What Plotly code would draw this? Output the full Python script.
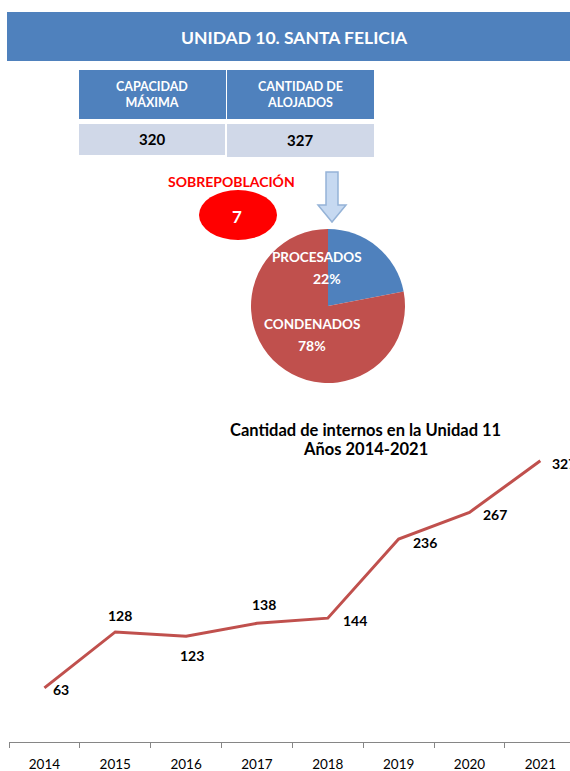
import plotly.graph_objects as go

W, H = 570, 771

years = ["2014", "2015", "2016", "2017", "2018", "2019", "2020", "2021"]
internos = [63, 128, 123, 138, 144, 236, 267, 327]
label_shift = [(17, -2), (5, 16), (6, -19), (7, 19), (27, -2), (26, -3), (26, -2), (24, -3)]

pie_labels = ["PROCESADOS", "CONDENADOS"]
pie_values = [22, 78]

capacidad = 320
alojados = 327
sobrepoblacion = alojados - capacidad

BLUE = "#4f81bd"
RED = "#c0504d"
LIGHT = "#d0d8e8"
FONT = "Lato, Open Sans, sans-serif"


def px(x):
    return x / W


def py(y):
    return 1 - y / H


fig = go.Figure()

fig.add_trace(go.Scatter(
    x=years, y=internos, mode="lines",
    line=dict(color=RED, width=3),
    hoverinfo="x+y", showlegend=False,
))

fig.add_trace(go.Pie(
    labels=pie_labels, values=pie_values, sort=False,
    direction="clockwise", rotation=0,
    marker=dict(colors=[BLUE, RED]),
    textinfo="none", showlegend=False,
    domain=dict(x=[px(251), px(405)], y=[py(383), py(229)]),
))

annotations = []
for i, (v, (dx, dy)) in enumerate(zip(internos, label_shift)):
    annotations.append(dict(
        x=i, y=v, xref="x", yref="y", text=str(v), showarrow=False,
        xanchor="center", yanchor="middle",
        xshift=dx, yshift=dy,
        font=dict(family=FONT, size=14, color="#000000", weight="bold"),
    ))


def note(x, y, text, size, color, **kw):
    d = dict(x=px(x), y=py(y), xref="paper", yref="paper", text=text,
             showarrow=False, xanchor="center", yanchor="middle", align="center",
             font=dict(family=FONT, size=size, color=color, weight="bold"))
    d.update(kw)
    return d


shapes = [
    dict(type="rect", xref="paper", yref="paper", x0=px(7), x1=px(575),
         y0=py(61), y1=py(12), fillcolor=BLUE, line=dict(width=0), layer="below"),
    dict(type="rect", xref="paper", yref="paper", x0=px(79), x1=px(226),
         y0=py(119), y1=py(70), fillcolor=BLUE, line=dict(width=0), layer="below"),
    dict(type="rect", xref="paper", yref="paper", x0=px(227), x1=px(374),
         y0=py(119), y1=py(70), fillcolor=BLUE, line=dict(width=0), layer="below"),
    dict(type="rect", xref="paper", yref="paper", x0=px(79), x1=px(225),
         y0=py(155), y1=py(124), fillcolor=LIGHT, line=dict(width=0), layer="below"),
    dict(type="rect", xref="paper", yref="paper", x0=px(227), x1=px(374),
         y0=py(157), y1=py(124), fillcolor=LIGHT, line=dict(width=0), layer="below"),
    dict(type="circle", xref="paper", yref="paper", x0=px(199), x1=px(277),
         y0=py(240), y1=py(190), fillcolor="#ff0000", line=dict(width=0), layer="below"),
]

arrow_pts = [(326, 172), (338, 172), (338, 205), (346, 205), (332, 222),
             (318, 205), (326, 205)]
path = "M " + " L ".join(f"{px(a):.5f},{py(b):.5f}" for a, b in arrow_pts) + " Z"
shapes.append(dict(type="path", xref="paper", yref="paper", path=path,
                   fillcolor="#c6d9f1", line=dict(color="#95b3d7", width=1.5)))

annotations += [
    note(294, 37, "UNIDAD 10. SANTA FELICIA", 17.5, "white"),
    note(152, 94, "CAPACIDAD<br>MÁXIMA", 12.5, "white"),
    note(300, 94, "CANTIDAD DE<br>ALOJADOS", 12.5, "white"),
    note(152, 139, str(capacidad), 15, "#000000"),
    note(300, 140, str(alojados), 15, "#000000"),
    note(231, 181, "SOBREPOBLACIÓN", 14, "#ff0000"),
    note(237, 216, str(sobrepoblacion), 17, "white"),
    note(317, 257, pie_labels[0], 13.5, "white"),
    note(327, 278, f"{pie_values[0]}%", 14, "white"),
    note(312, 324, pie_labels[1], 13.5, "white"),
    note(312, 346, f"{pie_values[1]}%", 14, "white"),
    note(365, 430, "Cantidad de internos en la Unidad 11", 16.5, "#000000"),
    note(365, 449, "Años 2014-2021", 16.5, "#000000"),
]

# category i sits at 44 + 70.9*i px, axis left edge at 9px
step = 70.9
x_right = (W - 44) / step

fig.update_layout(
    width=W, height=H,
    margin=dict(l=0, r=0, t=0, b=0),
    paper_bgcolor="white", plot_bgcolor="rgba(0,0,0,0)",
    font=dict(family=FONT),
    shapes=shapes, annotations=annotations,
    xaxis=dict(
        domain=[px(9), 1], type="category", range=[-0.5, x_right],
        automargin=False,
        showline=True, linecolor="#868686", linewidth=1,
        ticks="outside", tickson="boundaries", ticklen=5, tickcolor="#868686",
        showgrid=False, zeroline=False,
        tickfont=dict(family=FONT, size=13.5, color="#000000"),
        ticklabelstandoff=10,
    ),
    yaxis=dict(
        domain=[py(742), py(441)], range=[0, 350], automargin=False,
        showticklabels=False, showline=False, ticks="",
        showgrid=False, zeroline=False,
    ),
)

fig.write_html(
    "out.html",
    config={"displayModeBar": False},
    post_script="document.body.style.margin='0';document.body.style.overflow='hidden';",
)
